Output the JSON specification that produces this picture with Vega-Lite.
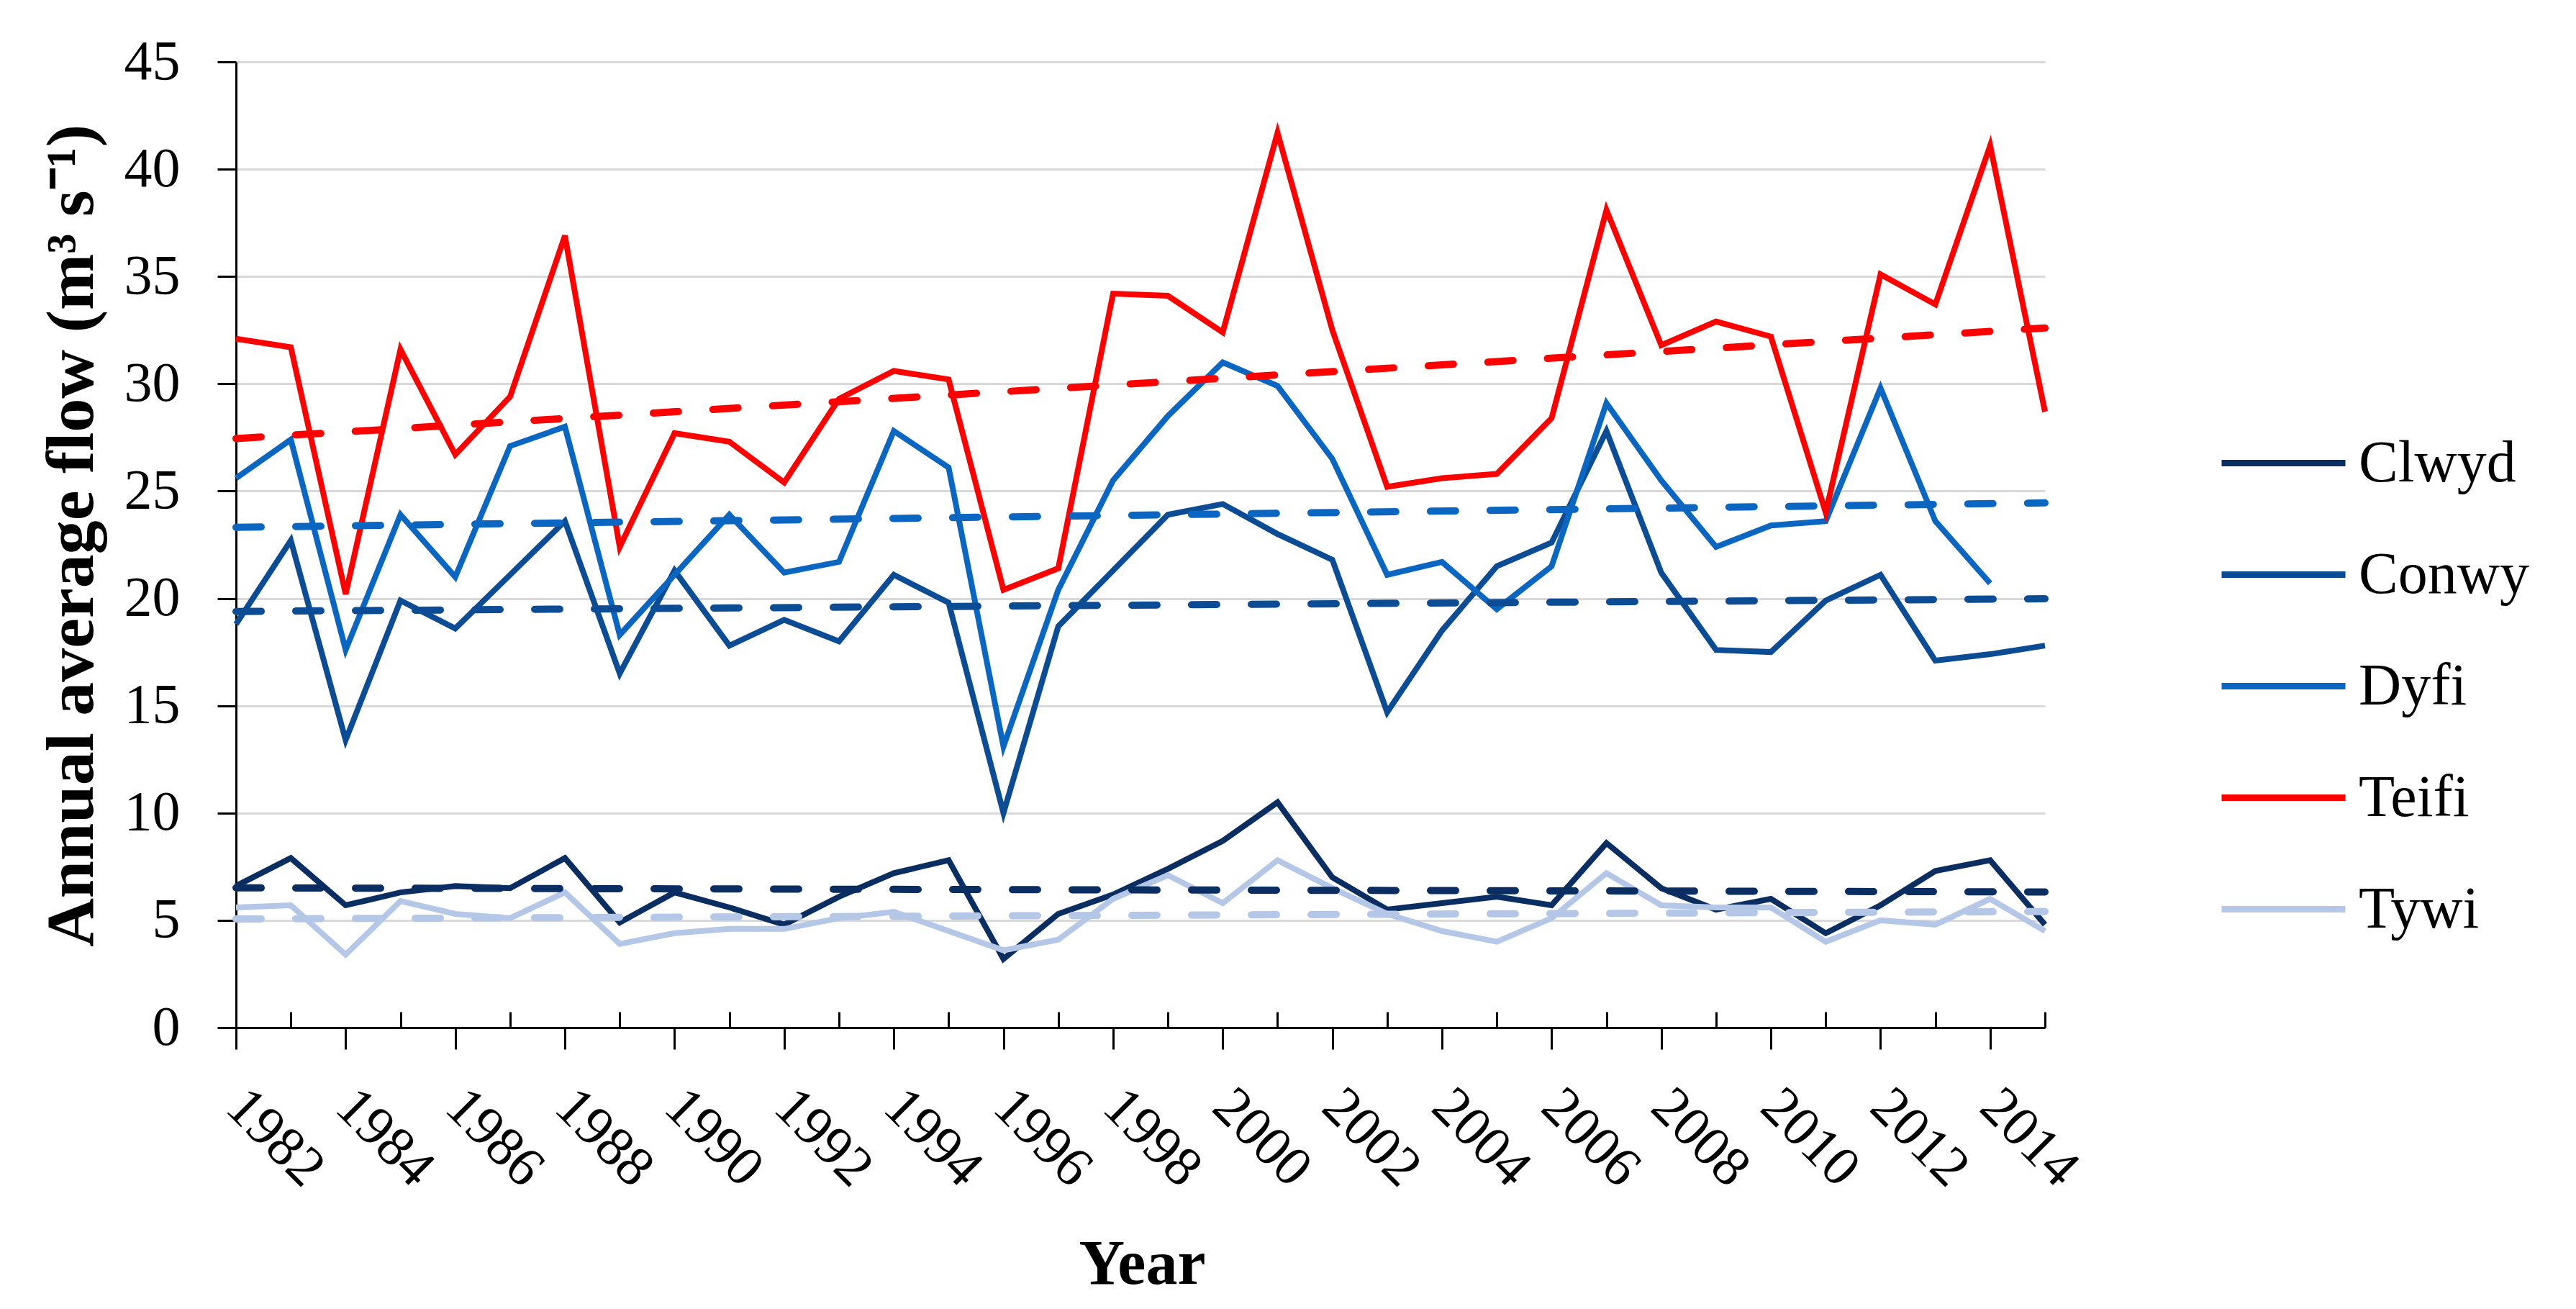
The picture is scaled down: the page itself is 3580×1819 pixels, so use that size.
{
  "$schema": "https://vega.github.io/schema/vega-lite/v6.json",
  "width": 2514,
  "height": 1342,
  "autosize": "none",
  "padding": {"left": 328, "top": 86, "right": 738, "bottom": 391},
  "background": "white",
  "config": {
    "view": {"stroke": null},
    "font": "Liberation Serif"
  },
  "data": {
    "values": [
      {"year": 1982, "river": "Clwyd", "flow": 6.6}, {"year": 1983, "river": "Clwyd", "flow": 7.9},
      {"year": 1984, "river": "Clwyd", "flow": 5.7}, {"year": 1985, "river": "Clwyd", "flow": 6.3},
      {"year": 1986, "river": "Clwyd", "flow": 6.6}, {"year": 1987, "river": "Clwyd", "flow": 6.5},
      {"year": 1988, "river": "Clwyd", "flow": 7.9}, {"year": 1989, "river": "Clwyd", "flow": 4.9},
      {"year": 1990, "river": "Clwyd", "flow": 6.3}, {"year": 1991, "river": "Clwyd", "flow": 5.6},
      {"year": 1992, "river": "Clwyd", "flow": 4.8}, {"year": 1993, "river": "Clwyd", "flow": 6.1},
      {"year": 1994, "river": "Clwyd", "flow": 7.2}, {"year": 1995, "river": "Clwyd", "flow": 7.8},
      {"year": 1996, "river": "Clwyd", "flow": 3.2}, {"year": 1997, "river": "Clwyd", "flow": 5.3},
      {"year": 1998, "river": "Clwyd", "flow": 6.2}, {"year": 1999, "river": "Clwyd", "flow": 7.4},
      {"year": 2000, "river": "Clwyd", "flow": 8.7}, {"year": 2001, "river": "Clwyd", "flow": 10.5},
      {"year": 2002, "river": "Clwyd", "flow": 7.0}, {"year": 2003, "river": "Clwyd", "flow": 5.5},
      {"year": 2004, "river": "Clwyd", "flow": 5.8}, {"year": 2005, "river": "Clwyd", "flow": 6.1},
      {"year": 2006, "river": "Clwyd", "flow": 5.7}, {"year": 2007, "river": "Clwyd", "flow": 8.6},
      {"year": 2008, "river": "Clwyd", "flow": 6.5}, {"year": 2009, "river": "Clwyd", "flow": 5.5},
      {"year": 2010, "river": "Clwyd", "flow": 6.0}, {"year": 2011, "river": "Clwyd", "flow": 4.4},
      {"year": 2012, "river": "Clwyd", "flow": 5.7}, {"year": 2013, "river": "Clwyd", "flow": 7.3},
      {"year": 2014, "river": "Clwyd", "flow": 7.8}, {"year": 2015, "river": "Clwyd", "flow": 4.8},

      {"year": 1982, "river": "Conwy", "flow": 18.8}, {"year": 1983, "river": "Conwy", "flow": 22.7},
      {"year": 1984, "river": "Conwy", "flow": 13.4}, {"year": 1985, "river": "Conwy", "flow": 19.9},
      {"year": 1986, "river": "Conwy", "flow": 18.6}, {"year": 1987, "river": "Conwy", "flow": 21.1},
      {"year": 1988, "river": "Conwy", "flow": 23.6}, {"year": 1989, "river": "Conwy", "flow": 16.5},
      {"year": 1990, "river": "Conwy", "flow": 21.3}, {"year": 1991, "river": "Conwy", "flow": 17.8},
      {"year": 1992, "river": "Conwy", "flow": 19.0}, {"year": 1993, "river": "Conwy", "flow": 18.0},
      {"year": 1994, "river": "Conwy", "flow": 21.1}, {"year": 1995, "river": "Conwy", "flow": 19.8},
      {"year": 1996, "river": "Conwy", "flow": 10.0}, {"year": 1997, "river": "Conwy", "flow": 18.7},
      {"year": 1998, "river": "Conwy", "flow": 21.3}, {"year": 1999, "river": "Conwy", "flow": 23.9},
      {"year": 2000, "river": "Conwy", "flow": 24.4}, {"year": 2001, "river": "Conwy", "flow": 23.0},
      {"year": 2002, "river": "Conwy", "flow": 21.8}, {"year": 2003, "river": "Conwy", "flow": 14.7},
      {"year": 2004, "river": "Conwy", "flow": 18.5}, {"year": 2005, "river": "Conwy", "flow": 21.5},
      {"year": 2006, "river": "Conwy", "flow": 22.6}, {"year": 2007, "river": "Conwy", "flow": 27.8},
      {"year": 2008, "river": "Conwy", "flow": 21.2}, {"year": 2009, "river": "Conwy", "flow": 17.6},
      {"year": 2010, "river": "Conwy", "flow": 17.5}, {"year": 2011, "river": "Conwy", "flow": 19.9},
      {"year": 2012, "river": "Conwy", "flow": 21.1}, {"year": 2013, "river": "Conwy", "flow": 17.1},
      {"year": 2014, "river": "Conwy", "flow": 17.4}, {"year": 2015, "river": "Conwy", "flow": 17.8},

      {"year": 1982, "river": "Dyfi", "flow": 25.6}, {"year": 1983, "river": "Dyfi", "flow": 27.4},
      {"year": 1984, "river": "Dyfi", "flow": 17.6}, {"year": 1985, "river": "Dyfi", "flow": 23.9},
      {"year": 1986, "river": "Dyfi", "flow": 21.0}, {"year": 1987, "river": "Dyfi", "flow": 27.1},
      {"year": 1988, "river": "Dyfi", "flow": 28.0}, {"year": 1989, "river": "Dyfi", "flow": 18.3},
      {"year": 1990, "river": "Dyfi", "flow": 21.1}, {"year": 1991, "river": "Dyfi", "flow": 23.9},
      {"year": 1992, "river": "Dyfi", "flow": 21.2}, {"year": 1993, "river": "Dyfi", "flow": 21.7},
      {"year": 1994, "river": "Dyfi", "flow": 27.8}, {"year": 1995, "river": "Dyfi", "flow": 26.1},
      {"year": 1996, "river": "Dyfi", "flow": 13.1}, {"year": 1997, "river": "Dyfi", "flow": 20.4},
      {"year": 1998, "river": "Dyfi", "flow": 25.5}, {"year": 1999, "river": "Dyfi", "flow": 28.5},
      {"year": 2000, "river": "Dyfi", "flow": 31.0}, {"year": 2001, "river": "Dyfi", "flow": 29.9},
      {"year": 2002, "river": "Dyfi", "flow": 26.5}, {"year": 2003, "river": "Dyfi", "flow": 21.1},
      {"year": 2004, "river": "Dyfi", "flow": 21.7}, {"year": 2005, "river": "Dyfi", "flow": 19.5},
      {"year": 2006, "river": "Dyfi", "flow": 21.5}, {"year": 2007, "river": "Dyfi", "flow": 29.1},
      {"year": 2008, "river": "Dyfi", "flow": 25.5}, {"year": 2009, "river": "Dyfi", "flow": 22.4},
      {"year": 2010, "river": "Dyfi", "flow": 23.4}, {"year": 2011, "river": "Dyfi", "flow": 23.6},
      {"year": 2012, "river": "Dyfi", "flow": 29.8}, {"year": 2013, "river": "Dyfi", "flow": 23.6},
      {"year": 2014, "river": "Dyfi", "flow": 20.7},

      {"year": 1982, "river": "Teifi", "flow": 32.1}, {"year": 1983, "river": "Teifi", "flow": 31.7},
      {"year": 1984, "river": "Teifi", "flow": 20.2}, {"year": 1985, "river": "Teifi", "flow": 31.6},
      {"year": 1986, "river": "Teifi", "flow": 26.7}, {"year": 1987, "river": "Teifi", "flow": 29.4},
      {"year": 1988, "river": "Teifi", "flow": 36.9}, {"year": 1989, "river": "Teifi", "flow": 22.4},
      {"year": 1990, "river": "Teifi", "flow": 27.7}, {"year": 1991, "river": "Teifi", "flow": 27.3},
      {"year": 1992, "river": "Teifi", "flow": 25.4}, {"year": 1993, "river": "Teifi", "flow": 29.3},
      {"year": 1994, "river": "Teifi", "flow": 30.6}, {"year": 1995, "river": "Teifi", "flow": 30.2},
      {"year": 1996, "river": "Teifi", "flow": 20.4}, {"year": 1997, "river": "Teifi", "flow": 21.4},
      {"year": 1998, "river": "Teifi", "flow": 34.2}, {"year": 1999, "river": "Teifi", "flow": 34.1},
      {"year": 2000, "river": "Teifi", "flow": 32.4}, {"year": 2001, "river": "Teifi", "flow": 41.7},
      {"year": 2002, "river": "Teifi", "flow": 32.5}, {"year": 2003, "river": "Teifi", "flow": 25.2},
      {"year": 2004, "river": "Teifi", "flow": 25.6}, {"year": 2005, "river": "Teifi", "flow": 25.8},
      {"year": 2006, "river": "Teifi", "flow": 28.4}, {"year": 2007, "river": "Teifi", "flow": 38.1},
      {"year": 2008, "river": "Teifi", "flow": 31.8}, {"year": 2009, "river": "Teifi", "flow": 32.9},
      {"year": 2010, "river": "Teifi", "flow": 32.2}, {"year": 2011, "river": "Teifi", "flow": 24.0},
      {"year": 2012, "river": "Teifi", "flow": 35.1}, {"year": 2013, "river": "Teifi", "flow": 33.7},
      {"year": 2014, "river": "Teifi", "flow": 41.1}, {"year": 2015, "river": "Teifi", "flow": 28.7},

      {"year": 1982, "river": "Tywi", "flow": 5.6}, {"year": 1983, "river": "Tywi", "flow": 5.7},
      {"year": 1984, "river": "Tywi", "flow": 3.4}, {"year": 1985, "river": "Tywi", "flow": 5.9},
      {"year": 1986, "river": "Tywi", "flow": 5.3}, {"year": 1987, "river": "Tywi", "flow": 5.1},
      {"year": 1988, "river": "Tywi", "flow": 6.3}, {"year": 1989, "river": "Tywi", "flow": 3.9},
      {"year": 1990, "river": "Tywi", "flow": 4.4}, {"year": 1991, "river": "Tywi", "flow": 4.6},
      {"year": 1992, "river": "Tywi", "flow": 4.6}, {"year": 1993, "river": "Tywi", "flow": 5.1},
      {"year": 1994, "river": "Tywi", "flow": 5.4}, {"year": 1995, "river": "Tywi", "flow": 4.5},
      {"year": 1996, "river": "Tywi", "flow": 3.6}, {"year": 1997, "river": "Tywi", "flow": 4.1},
      {"year": 1998, "river": "Tywi", "flow": 6.0}, {"year": 1999, "river": "Tywi", "flow": 7.1},
      {"year": 2000, "river": "Tywi", "flow": 5.8}, {"year": 2001, "river": "Tywi", "flow": 7.8},
      {"year": 2002, "river": "Tywi", "flow": 6.5}, {"year": 2003, "river": "Tywi", "flow": 5.3},
      {"year": 2004, "river": "Tywi", "flow": 4.5}, {"year": 2005, "river": "Tywi", "flow": 4.0},
      {"year": 2006, "river": "Tywi", "flow": 5.1}, {"year": 2007, "river": "Tywi", "flow": 7.2},
      {"year": 2008, "river": "Tywi", "flow": 5.7}, {"year": 2009, "river": "Tywi", "flow": 5.6},
      {"year": 2010, "river": "Tywi", "flow": 5.6}, {"year": 2011, "river": "Tywi", "flow": 4.0},
      {"year": 2012, "river": "Tywi", "flow": 5.0}, {"year": 2013, "river": "Tywi", "flow": 4.8},
      {"year": 2014, "river": "Tywi", "flow": 6.0}, {"year": 2015, "river": "Tywi", "flow": 4.5}
    ]
  },
  "encoding": {
    "x": {
      "field": "year",
      "type": "quantitative",
      "scale": {"domain": [1982, 2015], "nice": false, "zero": false},
      "axis": {
        "title": "Year",
        "titleFont": "Liberation Serif",
        "titleFontSize": 88,
        "titleFontWeight": "bold",
        "titleColor": "black",
        "titleX": 1259,
        "titleY": 355,
        "titleBaseline": "alphabetic",
        "values": [1982, 1983, 1984, 1985, 1986, 1987, 1988, 1989, 1990, 1991, 1992, 1993, 1994, 1995, 1996, 1997, 1998, 1999, 2000, 2001, 2002, 2003, 2004, 2005, 2006, 2007, 2008, 2009, 2010, 2011, 2012, 2013, 2014, 2015],
        "format": "d",
        "labelExpr": "datum.value % 2 === 0 ? datum.label : ''",
        "labelAngle": 45,
        "labelFont": "Liberation Serif",
        "labelFontSize": 78,
        "labelColor": "black",
        "labelPadding": 40,
        "labelOffset": 26,
        "labelOverlap": false,
        "labelFlush": false,
        "labelBound": false,
        "grid": false,
        "domainColor": "black",
        "domainWidth": 3,
        "tickColor": "black",
        "tickWidth": 3,
        "tickSize": {"condition": {"test": "datum.value % 2 === 0", "value": 30}, "value": -22}
      }
    },
    "y": {
      "field": "flow",
      "type": "quantitative",
      "scale": {"domain": [0, 45], "nice": false},
      "axis": {
        "title": "Annual average flow (m³ s⁻¹)",
        "titleFont": "Liberation Serif",
        "titleFontSize": 94,
        "titleFontWeight": "bold",
        "titleColor": "black",
        "titleAngle": -90,
        "titleX": -228,
        "titleY": 658,
        "titleAlign": "center",
        "titleBaseline": "middle",
        "values": [0, 5, 10, 15, 20, 25, 30, 35, 40, 45],
        "labelFont": "Liberation Serif",
        "labelFontSize": 78,
        "labelColor": "black",
        "labelPadding": 52,
        "gridColor": "#d9d9d9",
        "gridWidth": 3,
        "domainColor": "black",
        "domainWidth": 3,
        "tickColor": "black",
        "tickWidth": 3,
        "tickSize": 26
      }
    },
    "color": {
      "field": "river",
      "type": "nominal",
      "scale": {
        "domain": ["Clwyd", "Conwy", "Dyfi", "Teifi", "Tywi"],
        "range": ["#0a2d62", "#0b4c94", "#0b66c2", "#ff0000", "#b4c7e7"]
      }
    }
  },
  "layer": [
    {
      "mark": {"type": "line", "strokeWidth": 8},
      "encoding": {
        "color": {
          "field": "river",
          "type": "nominal",
          "legend": {
            "title": null,
            "orient": "none",
            "legendX": 2755,
            "legendY": 467,
            "symbolType": "stroke",
            "symbolSize": 29584,
            "symbolStrokeWidth": 9,
            "labelFont": "Liberation Serif",
            "labelFontSize": 82,
            "labelColor": "black",
            "labelLimit": 0,
            "labelOffset": 14,
            "rowPadding": 23
          }
        }
      }
    },
    {
      "transform": [
        {"regression": "flow", "on": "year", "groupby": ["river"], "extent": [1982, 2015]}
      ],
      "mark": {"type": "line", "strokeWidth": 10, "strokeDash": [35, 48], "strokeCap": "round"},
      "encoding": {
        "color": {"field": "river", "type": "nominal", "legend": null}
      }
    }
  ]
}
